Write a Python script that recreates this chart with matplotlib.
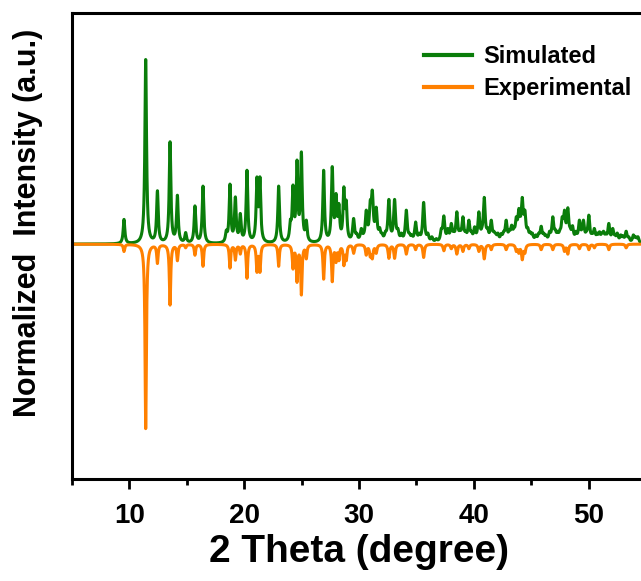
import numpy as np
import matplotlib
matplotlib.use("Agg")
import matplotlib.pyplot as plt
from matplotlib.ticker import MultipleLocator

plt.rcParams['font.family'] = ['Liberation Sans', 'DejaVu Sans']
plt.rcParams['font.weight'] = 'bold'

# ---- data (2theta in degrees, normalized heights) ----
sim_pos = [9.53, 11.42, 12.44, 13.54, 14.18, 14.90, 15.71, 16.41, 18.44, 18.76,
           19.23, 19.66, 20.24, 21.11, 21.37, 23.00, 24.02, 24.25, 24.60, 24.98,
           25.41, 26.92, 27.67, 28.00, 28.25, 28.68, 28.89, 29.53, 29.80, 30.20,
           30.40, 30.63, 30.98, 31.16, 31.50, 31.80, 32.00, 32.30, 32.60, 33.10,
           33.39, 33.70, 34.12, 34.40, 34.60, 34.93, 35.25, 35.63, 36.00, 36.35,
           36.73, 37.17, 37.39, 37.74, 38.04, 38.25, 38.52, 38.80, 39.05, 39.30,
           39.57, 39.80, 40.07, 40.44, 40.70, 40.91, 41.20, 41.52, 41.75, 41.90,
           42.10, 42.39, 42.60, 42.82, 43.10, 43.30, 43.50, 43.70, 43.92, 44.05,
           44.22, 44.45, 44.70, 44.91, 45.10, 45.40, 45.65, 45.87, 46.10, 46.30,
           46.60, 46.88, 47.10, 47.30, 47.50, 47.70, 47.90, 48.19, 48.40, 48.60,
           48.90, 49.20, 49.40, 49.55, 49.80, 50.02, 50.30, 50.50, 50.75, 50.95,
           51.15, 51.30, 51.50, 51.76, 52.10, 52.30, 52.50, 52.80, 53.00, 53.27,
           53.50, 53.90, 54.10, 54.30]
sim_int = [0.134, 1.000, 0.289, 0.554, 0.265, 0.063, 0.207, 0.314, 0.076, 0.325,
           0.256, 0.166, 0.400, 0.364, 0.364, 0.314, 0.134, 0.320, 0.455, 0.500,
           0.130, 0.400, 0.420, 0.274, 0.220, 0.310, 0.238, 0.139, 0.060, 0.085,
           0.060, 0.184, 0.238, 0.292, 0.200, 0.090, 0.060, 0.070, 0.242, 0.242,
           0.085, 0.060, 0.184, 0.060, 0.050, 0.120, 0.060, 0.226, 0.060, 0.040,
           0.030, 0.085, 0.153, 0.085, 0.112, 0.070, 0.175, 0.080, 0.148, 0.070,
           0.130, 0.070, 0.094, 0.175, 0.090, 0.253, 0.090, 0.130, 0.070, 0.060,
           0.060, 0.058, 0.070, 0.130, 0.080, 0.103, 0.090, 0.148, 0.193, 0.150,
           0.253, 0.184, 0.090, 0.067, 0.060, 0.050, 0.060, 0.097, 0.060, 0.050,
           0.070, 0.148, 0.080, 0.070, 0.080, 0.148, 0.184, 0.197, 0.090, 0.100,
           0.070, 0.130, 0.080, 0.130, 0.070, 0.157, 0.060, 0.085, 0.060, 0.067,
           0.060, 0.070, 0.060, 0.112, 0.085, 0.050, 0.060, 0.050, 0.045, 0.070,
           0.040, 0.050, 0.040, 0.040]

exp_pos = [9.53, 11.42, 12.44, 13.54, 14.18, 14.90, 15.71, 16.41, 18.76, 19.23,
           19.66, 20.24, 21.11, 21.37, 23.00, 24.25, 24.60, 24.98, 25.41, 26.92,
           27.67, 28.00, 28.25, 28.68, 28.89, 29.53, 30.63, 30.98, 31.16, 31.50,
           32.60, 33.10, 34.12, 34.93, 35.63, 37.39, 38.04, 38.52, 39.05, 39.57,
           40.44, 40.91, 41.52, 42.82, 43.70, 43.92, 44.22, 44.45, 45.87, 46.88,
           47.90, 48.19, 49.20, 50.02, 50.50, 51.76, 53.27]
exp_int = [0.040, 1.000, 0.105, 0.330, 0.090, 0.020, 0.060, 0.120, 0.130, 0.087,
           0.054, 0.185, 0.153, 0.153, 0.120, 0.135, 0.207, 0.276, 0.080, 0.190,
           0.204, 0.100, 0.090, 0.117, 0.090, 0.050, 0.060, 0.070, 0.080, 0.050,
           0.077, 0.077, 0.054, 0.030, 0.072, 0.036, 0.025, 0.054, 0.040, 0.025,
           0.040, 0.080, 0.030, 0.030, 0.040, 0.050, 0.085, 0.050, 0.030, 0.030,
           0.040, 0.054, 0.025, 0.030, 0.020, 0.030, 0.020]

series_labels = ["Simulated", "Experimental"]
xticks = [10, 20, 30, 40, 50]


def profile(x, pos, amp, gamma_lo, gamma_hi):
    pos = np.asarray(pos)
    amp = np.asarray(amp)
    g = np.where(pos < 29.0, gamma_lo, gamma_hi)
    A = g[None, :]**2 / ((pos[:, None] - pos[None, :])**2 + g[None, :]**2)
    a = np.clip(np.linalg.lstsq(A, amp, rcond=None)[0], 0, None)
    L = g[None, :]**2 / ((x[:, None] - pos[None, :])**2 + g[None, :]**2)
    return L @ a


x = np.linspace(5, 55, 6001)
y_sim = profile(x, sim_pos, sim_int, 0.085, 0.1)
y_exp = -profile(x, exp_pos, exp_int, 0.07, 0.08)

fig = plt.figure(figsize=(6.41, 5.81), dpi=100)
ax = fig.add_axes([72/641, 102/581, 574/641, 466/581])

ax.plot(x, y_sim, color='#0a7d0a', lw=2.2, label=series_labels[0])
ax.plot(x, y_exp, color='#ff8000', lw=2.2, label=series_labels[1])

ax.set_xlim(5, 55)
ax.set_ylim(-1.27, 1.25)
ax.set_yticks([])
ax.xaxis.set_major_locator(MultipleLocator(10))
ax.xaxis.set_minor_locator(MultipleLocator(5))
ax.set_xticks(xticks)
ax.tick_params(axis='x', which='major', direction='out', length=7, width=2,
               labelsize=20, pad=10)
ax.tick_params(axis='x', which='minor', direction='out', length=4, width=2)
for lab in ax.get_xticklabels():
    lab.set_fontweight('bold')
for s in ax.spines.values():
    s.set_linewidth(2.2)

ax.set_xlabel("2 Theta (degree)", fontsize=28, fontweight='bold', labelpad=4)
fig.text(28/641, 1 - 223/581, "Normalized  Intensity (a.u.)", rotation=90,
         ha='center', va='center', fontsize=22, fontweight='bold')

leg = ax.legend(loc='upper left', bbox_to_anchor=(424/641, 1 - 45/581),
                bbox_transform=fig.transFigure, frameon=False, fontsize=17,
                handlelength=2.03, handletextpad=0.5, labelspacing=0.38,
                borderpad=0, borderaxespad=0)
for t in leg.get_texts():
    t.set_fontweight('bold')
for h in leg.get_lines():
    h.set_linewidth(3)

fig.savefig("out.png", dpi=100)
